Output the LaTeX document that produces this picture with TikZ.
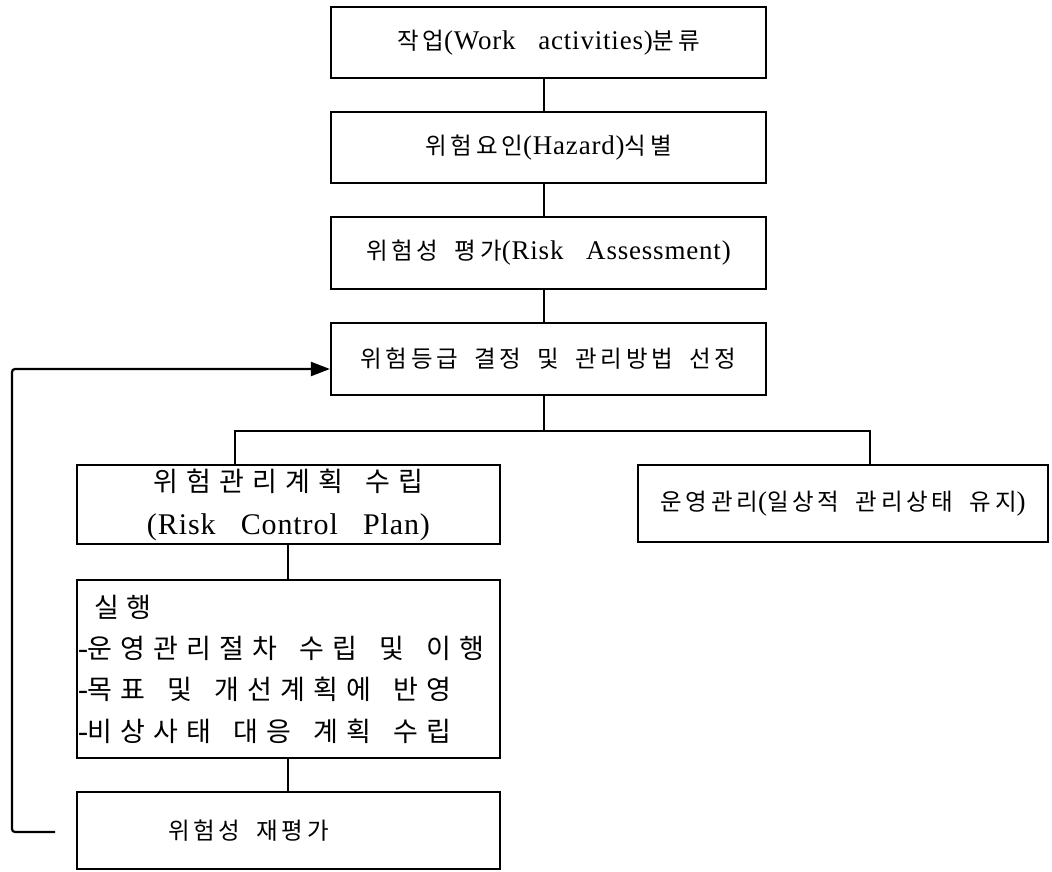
\documentclass[tikz,border=0pt]{standalone}
\usepackage{fontspec}
\setmainfont{Liberation Serif}[LetterSpace=3,WordSpace=3]
\newfontfamily\krf{Noto Sans CJK KR}[Scale=0.87,LetterSpace=16,WordSpace=1.8]
\newfontfamily\krw{Noto Sans CJK KR}[Scale=0.9,LetterSpace=30]
\newcommand\kr[1]{{\krf #1}}
\newcommand\krx[1]{{\krw #1}}
\newcommand\ks{\hspace*{22pt}}
\usetikzlibrary{arrows.meta}
\begin{document}
\begin{tikzpicture}[x=1pt,y=-1pt,
  every node/.style={font=\fontsize{27}{43}\selectfont},
  box/.style={draw, line width=2.2pt, inner sep=0pt, align=center},
  conn/.style={line width=2.2pt},
  fb/.style={line width=2.2pt, rounded corners=3pt, -{Triangle[length=19pt,width=14pt]}}]
\useasboundingbox (0,0) rectangle (1052,871);
\fill[white] (0,0) rectangle (1052,871);
% main column
\node[box, minimum width=435pt, minimum height=71pt] (b1) at (548.5,42.5)
  {\kr{작업}(Work activities)\kr{분류}};
\node[box, minimum width=435pt, minimum height=71pt] (b2) at (548.5,147.5)
  {\kr{위험요인}(Hazard)\kr{식별}};
\node[box, minimum width=435pt, minimum height=72pt] (b3) at (548.5,253)
  {\kr{위험성 평가}(Risk Assessment)};
\node[box, minimum width=435pt, minimum height=72pt] (b4) at (548.5,359)
  {\kr{위험등급 결정 및 관리방법 선정}};
% left branch
\node[box, minimum width=423pt, minimum height=79pt,
  font=\fontsize{30}{43}\selectfont] (b5) at (288.5,504.5)
  {\krx{위험관리계획}\ks\krx{수립}\\(Risk Control Plan)};
\node[box, minimum width=423pt, minimum height=178pt, text width=421pt, align=left,
  font=\fontsize{30}{41.3}\selectfont] (b6) at (288.5,669)
  {\hspace*{16pt}\krx{실행}\\-\krx{운영관리절차}\ks\krx{수립}\ks\krx{및}\ks\krx{이행}\\-\krx{목표}\ks\krx{및}\ks\krx{개선계획에}\ks\krx{반영}\\-\krx{비상사태}\ks\krx{대응}\ks\krx{계획}\ks\krx{수립}};
\node[box, minimum width=423pt, minimum height=77pt] (b7) at (288.5,830.5)
  {\kr{위험성 재평가}\hspace*{80pt}};
% right branch
\node[box, minimum width=410pt, minimum height=77pt] (b8) at (843,503.5)
  {\kr{운영관리}(\kr{일상적 관리상태 유지})};
% coordinates
\coordinate (mx) at (544,0);
\coordinate (jl) at (235,431);
\coordinate (jr) at (870,431);
\coordinate (lx) at (288,0);
\coordinate (fs) at (55,832);
\coordinate (fc) at (12,832);
% connectors
\draw[conn] (b1.south -| mx) -- (b2.north -| mx);
\draw[conn] (b2.south -| mx) -- (b3.north -| mx);
\draw[conn] (b3.south -| mx) -- (b4.north -| mx);
\draw[conn] (b4.south -| mx) -- (jl -| mx);
\draw[conn] (b5.north -| jl) -- (jl) -- (jr) -- (b8.north -| jr);
\draw[conn] (b5.south -| lx) -- (b6.north -| lx);
\draw[conn] (b6.south -| lx) -- (b7.north -| lx);
\draw[fb] (fs) -- (fc) |- ([yshift=-10pt]b4.west);
\end{tikzpicture}
\end{document}
